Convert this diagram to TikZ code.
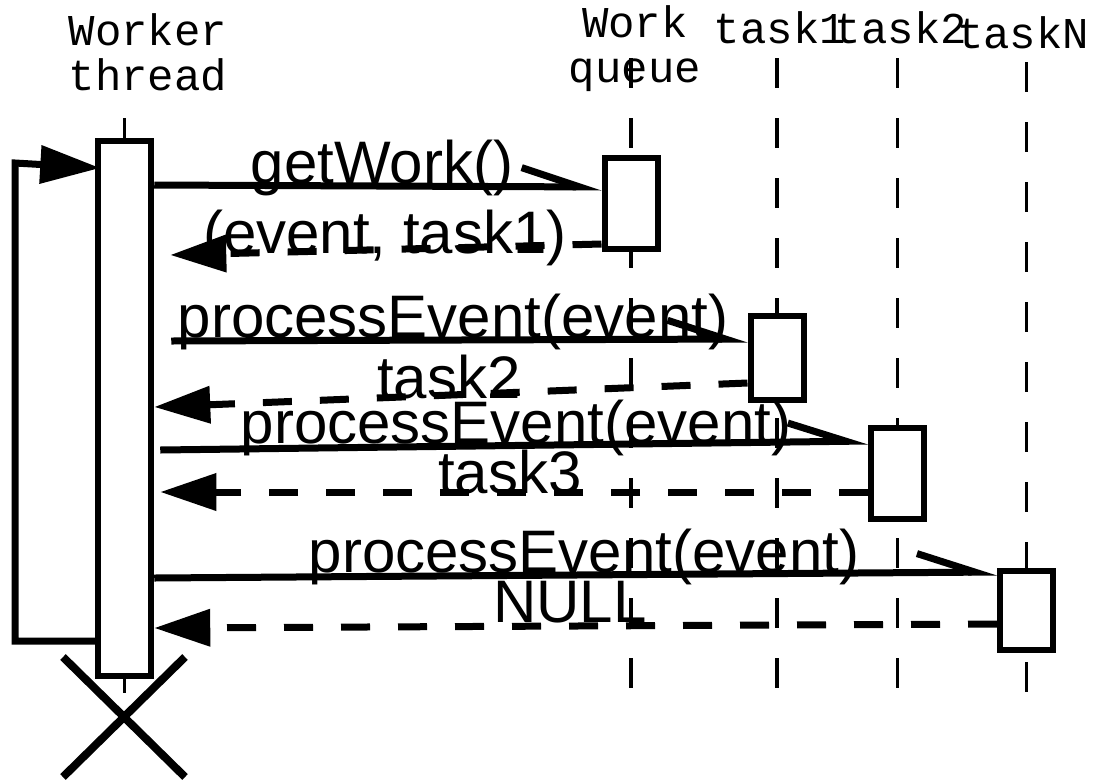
\documentclass[tikz,border=0pt]{standalone}
\usepackage{fontspec}
\setmainfont{Liberation Sans}
\newfontfamily\objfont{Liberation Mono}
\usetikzlibrary{arrows.meta,positioning}
\tikzset{
  actbox/.style={rectangle, draw, fill=white, line width=6pt, inner sep=0pt, minimum width=53pt},
  lifeln/.style={line width=3.5pt, dash pattern=on 30pt off 30pt},
  callarr/.style={line width=7pt, -{Straight Barb[harpoon, length=58pt, width=38pt]}},
  retarr/.style={line width=7pt, dash pattern=on 29pt off 28pt, -{Triangle[length=56pt, width=36pt]}},
  selfarr/.style={line width=7pt, line join=miter, -{Triangle[length=60pt, width=37pt]}},
  msg/.style={font=\fontsize{60}{72}\selectfont, inner sep=0pt, anchor=base},
  obj/.style={font=\objfont\fontsize{44}{45}\selectfont, align=center, inner sep=0pt, anchor=base}
}

\begin{document}
\begin{tikzpicture}[x=1pt, y=-1pt]
\useasboundingbox (0,0) rectangle (1095,780);

% objects (base = last line)
\node[obj] (worker) at (148,90) {Worker\\thread};
\node[obj] (queue) at (635,82) {Work\\queue};
\node[obj] (task1) at (780,43) {task1};
\node[obj] (task2) at (901,43) {task2};
\node[obj] (taskN) at (1023,48) {taskN};

% lifelines
\draw[line width=3pt] (124.75,118) -- (124.75,141);
\draw[line width=3pt] (124.75,676) -- (124.75,693);
\draw[lifeln] (631,58) -- (631,688);
\draw[lifeln] (777,58) -- (777,688);
\draw[lifeln] (897.5,58) -- (897.5,688);
\draw[lifeln] (1026.5,62) -- (1026.5,692);

% activations
\node[actbox, minimum height=535pt] (wact) at (124.75,408.5) {};
\node[actbox, minimum height=91pt] (qact) at (631,203.5) {};
\node[actbox, minimum height=84pt] (t1act) at (777,358) {};
\node[actbox, minimum height=91pt] (t2act) at (897.5,473.5) {};
\node[actbox, minimum height=79pt] (tnact) at (1026.5,610.5) {};

% messages
\draw[callarr] (wact.east |- 0,185) -- (qact.west |- 0,187);
\draw[retarr] (qact.west |- 0,244) -- ([xshift=16pt]wact.east |- 0,255);
\draw[callarr] ([xshift=17pt]wact.east |- 0,341) -- (t1act.west |- 0,339);
\draw[retarr] (t1act.west |- 0,383) -- (wact.east |- 0,407);
\draw[callarr] ([xshift=6pt]wact.east |- 0,450) -- (t2act.west |- 0,441);
\draw[retarr] (t2act.west |- 0,492) -- ([xshift=6pt]wact.east |- 0,492);
\draw[callarr] (wact.east |- 0,578) -- (tnact.west |- 0,572);
\draw[retarr] (tnact.west |- 0,624) -- (wact.east |- 0,628);
\draw[selfarr] (wact.west |- 0,641) -| (15,163) -- ([xshift=5pt]wact.west |- 0,168);

\node[msg] (lgetwork) at (382,183) {getWork()};
\node[msg] (lresult) at (385,253) {(event, task1)};
\node[msg] (lproc1) at (453,337) {processEvent(event)};
\node[msg] (ltask2) at (449,398) {task2};
\node[msg] (lproc2) at (516,443) {processEvent(event)};
\node[msg] (ltask3) at (510,493) {task3};
\node[msg] (lproc3) at (584,572) {processEvent(event)};
\node[msg] (lnull) at (570,622) {NULL};

% destroy
\draw[line width=8pt] (63,657) -- (185,777) (185,657) -- (63,777);
\end{tikzpicture}
\end{document}
